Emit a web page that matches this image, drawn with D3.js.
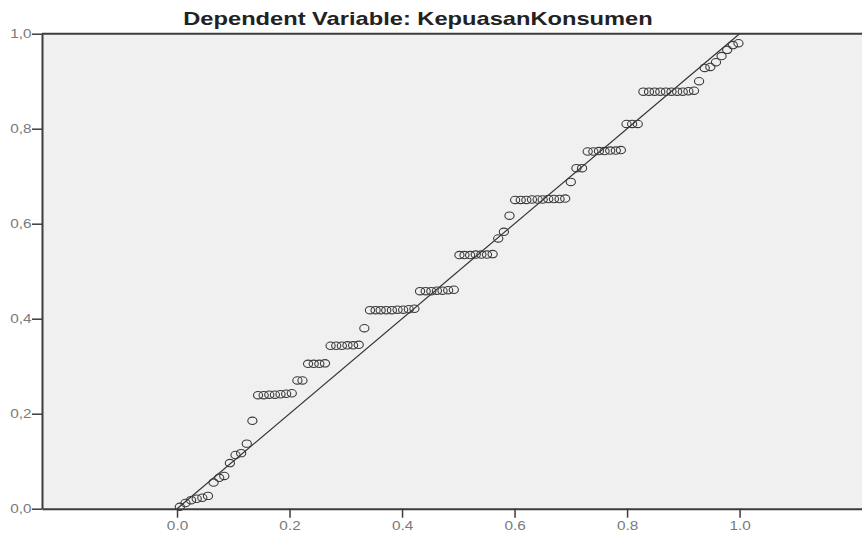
<!DOCTYPE html>
<html><head><meta charset="utf-8">
<script src="https://cdn.jsdelivr.net/npm/d3@7"></script>
<style>body{margin:0;background:#fff}svg{display:block}</style>
</head><body>
<svg id="c" width="862" height="533"></svg>
<script>
const titleText = "Dependent Variable: KepuasanKonsumen";
const xTickValues = [0, 0.2, 0.4, 0.6, 0.8, 1.0];
const xTickLabels = ["0.0", "0.2", "0.4", "0.6", "0.8", "1.0"];
const yTickValues = [0, 0.2, 0.4, 0.6, 0.8, 1.0];
const yTickLabels = ["0,0", "0,2", "0,4", "0,6", "0,8", "1,0"];
const refLine = [[0, 0], [1, 1]];

// Observed cumulative probability (x) for each point
const observedCumProb = [
  0.005, 0.015, 0.025, 0.035, 0.045, 0.055, 0.065, 0.075, 0.084, 0.094,
  0.104, 0.114, 0.124, 0.134, 0.144, 0.154, 0.164, 0.174, 0.184, 0.194,
  0.204, 0.214, 0.223, 0.233, 0.243, 0.253, 0.263, 0.273, 0.283, 0.293,
  0.303, 0.313, 0.323, 0.333, 0.343, 0.353, 0.362, 0.372, 0.382, 0.392,
  0.402, 0.412, 0.422, 0.432, 0.442, 0.452, 0.462, 0.472, 0.482, 0.492,
  0.502, 0.511, 0.521, 0.531, 0.541, 0.551, 0.561, 0.571, 0.581, 0.591,
  0.601, 0.611, 0.621, 0.631, 0.641, 0.650, 0.660, 0.670, 0.680, 0.690,
  0.700, 0.710, 0.720, 0.730, 0.740, 0.750, 0.760, 0.770, 0.780, 0.789,
  0.799, 0.809, 0.819, 0.829, 0.839, 0.849, 0.859, 0.869, 0.879, 0.889,
  0.899, 0.909, 0.919, 0.928, 0.938, 0.948, 0.958, 0.968, 0.978, 0.988,
  0.998
];
// Expected cumulative probability (y) for each point
const expectedCumProb = [
  0.004, 0.012, 0.018, 0.021, 0.023, 0.027, 0.055, 0.065, 0.069, 0.096,
  0.113, 0.117, 0.137, 0.185, 0.239, 0.239, 0.240, 0.240, 0.241, 0.242,
  0.243, 0.270, 0.270, 0.305, 0.305, 0.305, 0.306, 0.343, 0.343, 0.343,
  0.344, 0.344, 0.345, 0.380, 0.418, 0.418, 0.418, 0.418, 0.418, 0.419,
  0.419, 0.420, 0.421, 0.458, 0.458, 0.458, 0.459, 0.459, 0.460, 0.461,
  0.534, 0.534, 0.534, 0.535, 0.535, 0.535, 0.536, 0.569, 0.583, 0.617,
  0.650, 0.650, 0.650, 0.651, 0.651, 0.651, 0.652, 0.652, 0.652, 0.653,
  0.688, 0.717, 0.717, 0.752, 0.752, 0.753, 0.753, 0.754, 0.754, 0.755,
  0.810, 0.810, 0.810, 0.878, 0.878, 0.878, 0.878, 0.878, 0.878, 0.878,
  0.878, 0.879, 0.880, 0.900, 0.928, 0.930, 0.940, 0.953, 0.966, 0.976,
  0.980
];

const SX = 1.28; // horizontal text stretch seen in the reference
const svg = d3.select("#c");
const x = d3.scaleLinear().domain([-0.24, 1.24]).range([42, 874.6]);
const y = d3.scaleLinear().domain([0, 1]).range([508.7, 33.7]);

// plot background
svg.append("rect")
  .attr("x", x(-0.24)).attr("y", y(1))
  .attr("width", x(1.24) - x(-0.24)).attr("height", y(0) - y(1))
  .attr("fill", "#f0f0f0");

// reference line
svg.append("line")
  .attr("x1", x(refLine[0][0])).attr("y1", y(refLine[0][1]))
  .attr("x2", x(refLine[1][0])).attr("y2", y(refLine[1][1]))
  .attr("stroke", "#333").attr("stroke-width", 1.2);

// points
svg.append("g").selectAll("ellipse")
  .data(observedCumProb.map((v, i) => [v, expectedCumProb[i]]))
  .join("ellipse")
  .attr("cx", d => x(d[0])).attr("cy", d => y(d[1]))
  .attr("rx", 4.6).attr("ry", 3.7)
  .attr("fill", "none").attr("stroke", "#3a3a3a").attr("stroke-width", 1.1);

// top border
svg.append("line")
  .attr("x1", x(-0.24)).attr("x2", x(1.24))
  .attr("y1", y(1)).attr("y2", y(1))
  .attr("stroke", "#3c3c3c").attr("stroke-width", 2);

// axes
const xAxis = d3.axisBottom(x).tickValues(xTickValues)
  .tickFormat((d, i) => xTickLabels[i]).tickSize(9).tickSizeOuter(0);
const yAxis = d3.axisLeft(y).tickValues(yTickValues)
  .tickFormat((d, i) => yTickLabels[i]).tickSize(10).tickSizeOuter(0);

const gx = svg.append("g").attr("transform", `translate(0,${y(0)})`).call(xAxis);
const gy = svg.append("g").attr("transform", `translate(${x(-0.24)},0)`).call(yAxis);

[gx, gy].forEach(g => {
  g.select(".domain").attr("stroke", "#3c3c3c").attr("stroke-width", 2);
  g.selectAll(".tick line").attr("stroke", "#3c3c3c").attr("stroke-width", 1.5);
  g.selectAll(".tick text")
    .attr("fill", "#7a7a7a")
    .style("font-family", "'Liberation Sans', Arial, sans-serif")
    .style("font-size", "12px");
});
gx.selectAll(".tick text").attr("y", 13).attr("transform", `scale(${SX},1)`);
gy.selectAll(".tick text").attr("x", -10.5 / SX).attr("transform", `scale(${SX},1)`);

// title
svg.append("text")
  .attr("transform", `translate(418,25) scale(${SX},1)`)
  .attr("text-anchor", "middle")
  .style("font-family", "'Liberation Sans', Arial, sans-serif")
  .style("font-weight", "bold").style("font-size", "18.5px")
  .attr("fill", "#222")
  .text(titleText);
</script>
</body></html>
